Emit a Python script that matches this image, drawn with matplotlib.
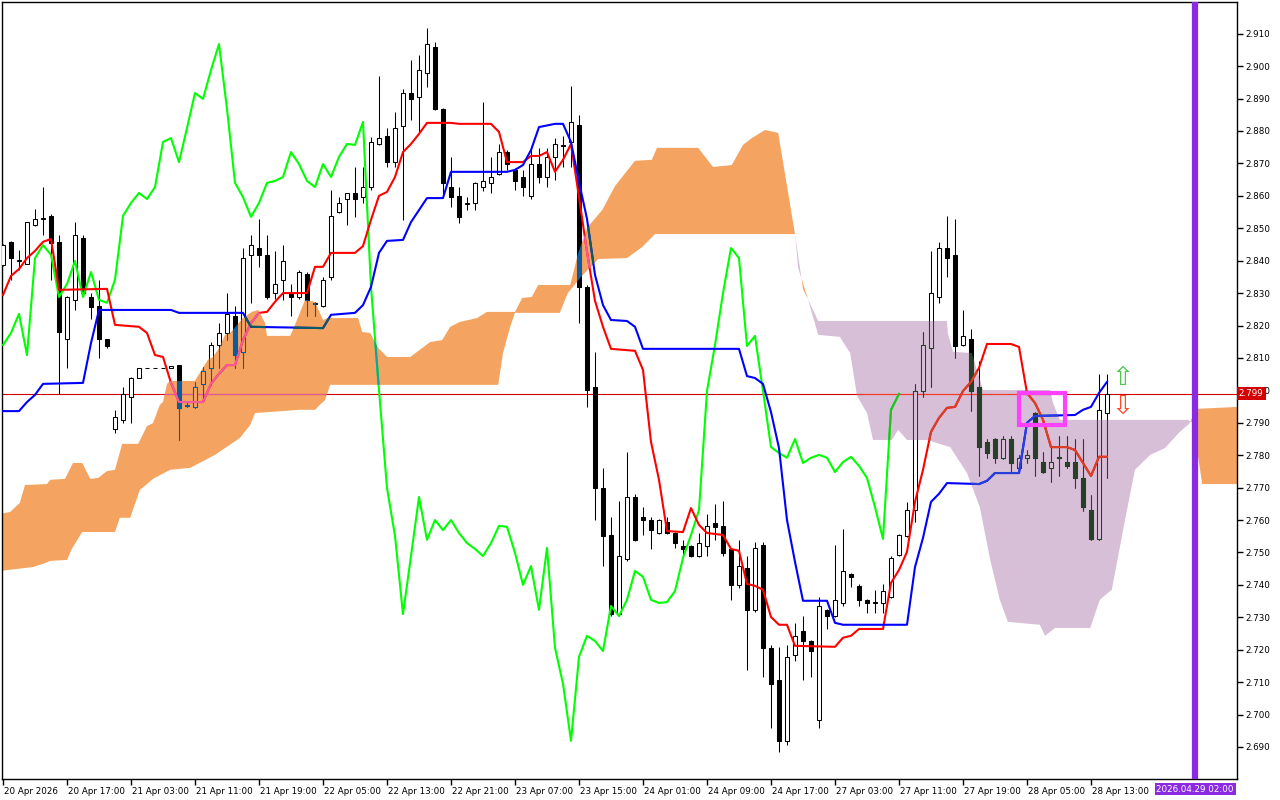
import numpy as np
import matplotlib
matplotlib.use("Agg")
import matplotlib.pyplot as plt
from matplotlib.colors import to_rgb
from matplotlib.path import Path
from matplotlib.patches import Rectangle
from matplotlib.transforms import blended_transform_factory, ScaledTranslation

# hourly candles, bar 0 = 20 Apr 2026
opens = [2.8387, 2.8458, 2.8399, 2.8390, 2.8510, 2.8529, 2.8538, 2.8458, 2.8159, 2.8279,
         2.8470, 2.8288, 2.8260, 2.8159, 2.7881, 2.7909, 2.7980, 2.8038, 2.8069, 2.8069,
         2.8069, 2.8069, 2.8078, 2.7952, 2.7949, 2.8020, 2.8069, 2.8140, 2.8177, 2.8229,
         2.8118, 2.8418, 2.8439, 2.8418, 2.8300, 2.8341, 2.8300, 2.8288, 2.8359, 2.8266,
         2.8260, 2.8350, 2.8550, 2.8590, 2.8609, 2.8596, 2.8627, 2.8760, 2.8785, 2.8704,
         2.8815, 2.8917, 2.8905, 2.8979, 2.9059, 2.8868, 2.8627, 2.8600, 2.8575, 2.8578,
         2.8627, 2.8640, 2.8667, 2.8735, 2.8680, 2.8658, 2.8600, 2.8698, 2.8658, 2.8720,
         2.8754, 2.8766, 2.8818, 2.8319, 2.8011, 2.7699, 2.7554, 2.7310, 2.7480, 2.7671,
         2.7610, 2.7600, 2.7560, 2.7594, 2.7560, 2.7520, 2.7520, 2.7489, 2.7520, 2.7591,
         2.7582, 2.7511, 2.7400, 2.7452, 2.7323, 2.7523, 2.7206, 2.7107, 2.6919, 2.7184,
         2.7258, 2.7227, 2.6984, 2.7323, 2.7304, 2.7345, 2.7434, 2.7397, 2.7354, 2.7344,
         2.7344, 2.7363, 2.7492, 2.7551, 2.7631, 2.7998, 2.8131, 2.8288, 2.8439, 2.8418,
         2.8140, 2.8159, 2.8011, 2.7841, 2.7850, 2.7792, 2.7850, 2.7761, 2.7792, 2.7930,
         2.7779, 2.7761, 2.7792, 2.7779, 2.7779, 2.7730, 2.7631, 2.7542, 2.7930]
highs = [2.8452, 2.8461, 2.8433, 2.8519, 2.8559, 2.8627, 2.8544, 2.8479, 2.8291, 2.8519,
         2.8479, 2.8300, 2.8341, 2.8159, 2.7940, 2.8011, 2.8041, 2.8069, 2.8069, 2.8069,
         2.8069, 2.8075, 2.8078, 2.7964, 2.8026, 2.8072, 2.8149, 2.8208, 2.8300, 2.8260,
         2.8439, 2.8479, 2.8529, 2.8479, 2.8430, 2.8448, 2.8328, 2.8371, 2.8365, 2.8273,
         2.8350, 2.8618, 2.8596, 2.8609, 2.8689, 2.8689, 2.8782, 2.8970, 2.8809, 2.8859,
         2.8930, 2.9019, 2.9034, 2.9118, 2.9074, 2.8871, 2.8720, 2.8627, 2.8596, 2.8643,
         2.8889, 2.8720, 2.8760, 2.8741, 2.8686, 2.8680, 2.8748, 2.8748, 2.8748, 2.8778,
         2.8785, 2.8939, 2.8849, 2.8325, 2.8118, 2.7761, 2.7610, 2.7659, 2.7810, 2.7681,
         2.7640, 2.7610, 2.7603, 2.7610, 2.7563, 2.7539, 2.7523, 2.7560, 2.7619, 2.7650,
         2.7659, 2.7514, 2.7539, 2.7489, 2.7533, 2.7533, 2.7215, 2.7209, 2.7215, 2.7283,
         2.7304, 2.7230, 2.7363, 2.7326, 2.7523, 2.7573, 2.7437, 2.7403, 2.7357, 2.7385,
         2.7403, 2.7489, 2.7557, 2.7656, 2.8020, 2.8180, 2.8430, 2.8458, 2.8538, 2.8529,
         2.8248, 2.8189, 2.8091, 2.7850, 2.7853, 2.7859, 2.7859, 2.7801, 2.7816, 2.7933,
         2.7810, 2.7825, 2.7859, 2.7859, 2.7850, 2.7850, 2.7677, 2.8051, 2.8051]
lows = [2.8384, 2.8341, 2.8371, 2.8390, 2.8507, 2.8479, 2.8341, 2.7989, 2.8069, 2.8248,
        2.8291, 2.8220, 2.8100, 2.8131, 2.7869, 2.7900, 2.7900, 2.8038, 2.8069, 2.8069,
        2.8069, 2.8069, 2.7847, 2.7949, 2.7946, 2.7964, 2.8017, 2.8069, 2.8155, 2.8069,
        2.8069, 2.8270, 2.8381, 2.8282, 2.8282, 2.8279, 2.8229, 2.8282, 2.8229, 2.8229,
        2.8257, 2.8341, 2.8547, 2.8510, 2.8535, 2.8578, 2.8618, 2.8757, 2.8689, 2.8689,
        2.8526, 2.8834, 2.8797, 2.8936, 2.8865, 2.8603, 2.8566, 2.8516, 2.8556, 2.8556,
        2.8615, 2.8609, 2.8664, 2.8680, 2.8618, 2.8600, 2.8590, 2.8640, 2.8627, 2.8649,
        2.8689, 2.8689, 2.8208, 2.7949, 2.7600, 2.7458, 2.7304, 2.7304, 2.7474, 2.7536,
        2.7554, 2.7511, 2.7557, 2.7557, 2.7514, 2.7492, 2.7486, 2.7486, 2.7489, 2.7539,
        2.7489, 2.7354, 2.7391, 2.7138, 2.7317, 2.7116, 2.6959, 2.6885, 2.6906, 2.7165,
        2.7107, 2.7116, 2.6959, 2.7264, 2.7301, 2.7335, 2.7394, 2.7335, 2.7313, 2.7313,
        2.7313, 2.7360, 2.7489, 2.7548, 2.7594, 2.7980, 2.8011, 2.8270, 2.8350, 2.8100,
        2.8137, 2.7937, 2.7736, 2.7792, 2.7776, 2.7788, 2.7748, 2.7758, 2.7776, 2.7736,
        2.7745, 2.7718, 2.7736, 2.7761, 2.7699, 2.7628, 2.7539, 2.7539, 2.7730]
closes = [2.8448, 2.8408, 2.8402, 2.8519, 2.8529, 2.8532, 2.8455, 2.8180, 2.8288, 2.8479,
          2.8300, 2.8257, 2.8159, 2.8137, 2.7918, 2.7989, 2.8038, 2.8069, 2.8069, 2.8069,
          2.8069, 2.8075, 2.7946, 2.7955, 2.8011, 2.8060, 2.8140, 2.8177, 2.8236, 2.8109,
          2.8408, 2.8448, 2.8418, 2.8288, 2.8328, 2.8399, 2.8288, 2.8365, 2.8279, 2.8270,
          2.8341, 2.8538, 2.8578, 2.8609, 2.8590, 2.8627, 2.8766, 2.8778, 2.8704, 2.8809,
          2.8917, 2.8899, 2.8988, 2.9068, 2.8868, 2.8640, 2.8596, 2.8535, 2.8578, 2.8640,
          2.8646, 2.8658, 2.8735, 2.8698, 2.8646, 2.8627, 2.8698, 2.8658, 2.8720, 2.8760,
          2.8757, 2.8828, 2.8319, 2.8001, 2.7699, 2.7551, 2.7310, 2.7489, 2.7671, 2.7539,
          2.7600, 2.7569, 2.7600, 2.7560, 2.7529, 2.7511, 2.7489, 2.7529, 2.7582, 2.7579,
          2.7499, 2.7400, 2.7458, 2.7323, 2.7514, 2.7206, 2.7095, 2.6919, 2.7178, 2.7243,
          2.7227, 2.7196, 2.7335, 2.7304, 2.7354, 2.7443, 2.7425, 2.7354, 2.7344, 2.7347,
          2.7381, 2.7483, 2.7554, 2.7631, 2.7998, 2.8140, 2.8300, 2.8439, 2.8408, 2.8137,
          2.8168, 2.7998, 2.7825, 2.7807, 2.7792, 2.7850, 2.7776, 2.7792, 2.7801, 2.7792,
          2.7748, 2.7779, 2.7795, 2.7767, 2.7730, 2.7640, 2.7542, 2.7940, 2.7989]

# ichimoku lines (bar index, price)
tenkan_bar = [0, 1, 2, 3, 4, 5, 6, 7, 13, 14, 17, 18, 19, 20, 21, 22, 25, 26, 27, 28, 29, 30,
              31, 32, 33, 34, 35, 38, 39, 40, 41, 44, 45, 46, 47, 48, 49, 50, 51, 52, 53, 56,
              57, 61, 62, 63, 65, 66, 67, 68, 69, 70, 71, 72, 73, 74, 75, 76, 79, 80, 81, 82,
              83, 85, 86, 87, 88, 90, 91, 92, 93, 94, 95, 96, 97, 98, 99, 104, 105, 106, 107,
              110, 111, 112, 113, 114, 115, 116, 117, 118, 119, 120, 121, 122, 123, 126, 127,
              128, 129, 130, 131, 133, 134, 135, 136, 137, 138]
tenkan = [2.8294, 2.8353, 2.8374, 2.8408, 2.8430, 2.8458, 2.8467, 2.8310, 2.8313, 2.8202,
          2.8196, 2.8177, 2.8109, 2.8103, 2.8023, 2.7964, 2.7964, 2.8020, 2.8051, 2.8078,
          2.8078, 2.8155, 2.8208, 2.8239, 2.8242, 2.8273, 2.8300, 2.8300, 2.8381, 2.8381,
          2.8424, 2.8424, 2.8445, 2.8526, 2.8600, 2.8612, 2.8658, 2.8735, 2.8760, 2.8791,
          2.8825, 2.8825, 2.8822, 2.8822, 2.8797, 2.8704, 2.8704, 2.8723, 2.8723, 2.8735,
          2.8674, 2.8711, 2.8760, 2.8596, 2.8427, 2.8276, 2.8196, 2.8128, 2.8122, 2.8063,
          2.7841, 2.7724, 2.7566, 2.7563, 2.7637, 2.7585, 2.7560, 2.7554, 2.7511, 2.7505,
          2.7403, 2.7397, 2.7385, 2.7301, 2.7277, 2.7277, 2.7212, 2.7209, 2.7237, 2.7243,
          2.7264, 2.7264, 2.7406, 2.7446, 2.7502, 2.7656, 2.7755, 2.7872, 2.7915, 2.7946,
          2.7949, 2.7998, 2.8026, 2.8069, 2.8143, 2.8143, 2.8134, 2.7992, 2.7961, 2.7909,
          2.7825, 2.7825, 2.7816, 2.7776, 2.7736, 2.7795, 2.7795]
kijun_bar = [0, 2, 3, 4, 5, 10, 11, 12, 21, 22, 30, 31, 40, 41, 44, 45, 46, 47, 48, 50, 51,
             53, 55, 56, 63, 64, 65, 66, 67, 69, 70, 71, 72, 73, 74, 75, 76, 78, 79, 80, 92,
             93, 94, 95, 96, 97, 98, 99, 100, 103, 104, 105, 113, 114, 115, 116, 117, 118,
             122, 123, 124, 127, 128, 129, 134, 135, 136, 137, 138]
kijun = [2.7936, 2.7936, 2.7964, 2.7986, 2.8020, 2.8023, 2.8146, 2.8248, 2.8248, 2.8239,
         2.8239, 2.8196, 2.8192, 2.8233, 2.8239, 2.8263, 2.8319, 2.8424, 2.8461, 2.8464,
         2.8519, 2.8593, 2.8593, 2.8674, 2.8674, 2.8680, 2.8695, 2.8741, 2.8812, 2.8822,
         2.8822, 2.8766, 2.8643, 2.8529, 2.8356, 2.8263, 2.8217, 2.8214, 2.8196, 2.8128,
         2.8128, 2.8044, 2.8038, 2.8020, 2.7933, 2.7822, 2.7600, 2.7471, 2.7351, 2.7351,
         2.7283, 2.7277, 2.7277, 2.7455, 2.7545, 2.7656, 2.7681, 2.7714, 2.7711, 2.7721,
         2.7745, 2.7745, 2.7900, 2.7921, 2.7924, 2.7940, 2.7949, 2.7992, 2.8026]

# senkou spans (already shifted 26 bars forward)
span_a_bar = [-0.4, 0.9, 2.1, 2.75, 5.5, 5.9, 7.75, 8.75, 9.9, 10.9, 11.9, 13.0, 14.0, 14.9,
              16.9, 18.0, 18.75, 19.6, 20.0, 20.5, 20.9, 24.0, 24.6, 25.6, 26.25, 27.1, 27.75,
              28.4, 30.0, 31.1, 31.9, 32.75, 33.0, 35.9, 36.75, 37.75, 39.0, 40.0, 40.6, 44.4,
              44.9, 45.9, 46.9, 48.0, 50.9, 52.1, 53.4, 54.9, 55.9, 57.1, 59.25, 60.5, 64.0,
              64.9, 66.1, 66.9, 70.9, 71.9, 73.1, 74.9, 76.5, 79.0, 81.1, 81.75, 86.9, 88.75,
              91.1, 92.5, 93.6, 95.25, 96.9, 99.0, 99.4, 100.5, 101.9, 104.6, 105.9, 106.75,
              108.0, 108.75, 111.1, 111.9, 113.0, 115.5, 118.4, 120.5, 122.1, 123.4, 124.6,
              125.6, 129.6, 130.25, 131.5, 135.9, 137.1, 138.6, 140.25, 141.5, 143.4, 145.25,
              147.1, 148.25, 149.25, 154.4]
span_a = [2.7619, 2.7625, 2.7653, 2.7708, 2.7711, 2.7724, 2.7727, 2.7776, 2.7776, 2.7727,
          2.7730, 2.7751, 2.7755, 2.7835, 2.7835, 2.7890, 2.7899, 2.7955, 2.7964, 2.8020,
          2.8029, 2.8029, 2.8054, 2.8094, 2.8103, 2.8134, 2.8171, 2.8177, 2.8223, 2.8242,
          2.8248, 2.8208, 2.8168, 2.8168, 2.8217, 2.8279, 2.8273, 2.8217, 2.8223, 2.8223,
          2.8180, 2.8177, 2.8131, 2.8103, 2.8103, 2.8125, 2.8149, 2.8155, 2.8196, 2.8211,
          2.8223, 2.8242, 2.8242, 2.8285, 2.8288, 2.8325, 2.8325, 2.8424, 2.8504, 2.8556,
          2.8630, 2.8708, 2.8711, 2.8748, 2.8748, 2.8689, 2.8695, 2.8757, 2.8778, 2.8803,
          2.8794, 2.8482, 2.8377, 2.8291, 2.8171, 2.8165, 2.8115, 2.7983, 2.7930, 2.7847,
          2.7847, 2.7878, 2.7847, 2.7847, 2.7825, 2.7745, 2.7640, 2.7477, 2.7354, 2.7286,
          2.7277, 2.7243, 2.7267, 2.7267, 2.7354, 2.7385, 2.7600, 2.7755, 2.7801, 2.7822,
          2.7872, 2.7896, 2.7943, 2.7949]
span_b_bar = [-0.4, 3.75, 5.0, 5.9, 8.0, 8.6, 9.9, 14.0, 14.6, 15.9, 17.1, 18.0, 18.75, 20.9,
              23.4, 26.5, 29.6, 30.9, 31.5, 37.1, 39.0, 39.6, 40.25, 40.9, 61.9, 62.5, 63.4,
              64.0, 69.6, 70.6, 72.25, 74.4, 78.0, 79.9, 81.5, 99.0, 100.0, 101.9, 118.0,
              118.1, 118.75, 121.1, 122.5, 130.9, 131.25, 132.1, 148.1, 148.75, 149.9, 154.4]
span_b = [2.7443, 2.7455, 2.7465, 2.7474, 2.7477, 2.7511, 2.7563, 2.7563, 2.7607, 2.7607,
          2.7693, 2.7711, 2.7727, 2.7755, 2.7761, 2.7801, 2.7853, 2.7893, 2.7930, 2.7940,
          2.7940, 2.7955, 2.7970, 2.8017, 2.8017, 2.8115, 2.8196, 2.8239, 2.8239, 2.8300,
          2.8350, 2.8405, 2.8408, 2.8442, 2.8482, 2.8482, 2.8313, 2.8214, 2.8214, 2.8177,
          2.8119, 2.8115, 2.8001, 2.8001, 2.7961, 2.7909, 2.7909, 2.7900, 2.7711, 2.7711]

date_ticks = list(range(0, 137, 8))
date_labels = ["20 Apr 2026", "20 Apr 17:00", "21 Apr 03:00", "21 Apr 11:00", "21 Apr 19:00",
               "22 Apr 05:00", "22 Apr 13:00", "22 Apr 21:00", "23 Apr 07:00", "23 Apr 15:00",
               "24 Apr 01:00", "24 Apr 09:00", "24 Apr 17:00", "27 Apr 03:00", "27 Apr 11:00",
               "27 Apr 19:00", "28 Apr 05:00", "28 Apr 13:00"]
price_ticks = np.round(np.arange(2.690, 2.9101, 0.010), 3)

bid = 2.799
marker_bar, marker_label = 149, "2026.04.29 02:00"
box_bars = (127.0, 132.8)
box_prices = (2.7892, 2.7993)
signal_bar = 139.9
signal_up, signal_dn = 2.8038, 2.7949

CLOUD_UP = "#f4a460"
CLOUD_DN = "#d8bfd8"

bars = np.arange(len(closes))
o, h, l, c = (np.asarray(v) for v in (opens, highs, lows, closes))


def xor_with(cloud):
    # MT4 draws the kumo in xor mode, so everything inside it is recoloured
    mask = [255 ^ int(round(v * 255)) for v in to_rgb(cloud)]

    def f(col):
        rgb = [int(round(v * 255)) for v in to_rgb(col)]
        return tuple((a ^ m) / 255 for a, m in zip(rgb, mask))
    return f


def draw_layer(ax, col, clip=None):
    arts = [ax.vlines(bars, l, h, colors=[col("black")], lw=0.75, zorder=3)]
    up = c >= o
    body = ax.bar(bars, np.abs(c - o), 0.5, bottom=np.minimum(o, c),
                  color=[col("white") if u else col("black") for u in up],
                  edgecolor=col("black"), lw=0.75, zorder=4)
    arts += list(body.patches)
    arts.append(ax.axhline(bid, color=col("#d00000"), lw=0.8, zorder=2))
    arts += ax.plot(bars[:-26], c[26:], color=col("#00ff00"), lw=1.5, zorder=5)
    arts += ax.plot(tenkan_bar, tenkan, color=col("#ff0000"), lw=1.5, zorder=5)
    arts += ax.plot(kijun_bar, kijun, color=col("#0000ff"), lw=1.5, zorder=5)
    if clip is not None:
        for a in arts:
            a.set_clip_path(clip, ax.transData)


fig = plt.figure(figsize=(12.8, 8), dpi=100)
ax = fig.add_axes([2 / 1280, 21 / 800, 1235 / 1280, 777 / 800])
ax.set_xlim(-0.125, 154.25)
ax.set_ylim(2.68013, 2.91978)

grid = np.union1d(span_a_bar, span_b_bar)
sa = np.interp(grid, span_a_bar, span_a)
sb = np.interp(grid, span_b_bar, span_b)
kumo_up = ax.fill_between(grid, sa, sb, where=sa >= sb, interpolate=True,
                          color=CLOUD_UP, lw=0, zorder=1)
kumo_dn = ax.fill_between(grid, sa, sb, where=sa < sb, interpolate=True,
                          color=CLOUD_DN, lw=0, zorder=1)

draw_layer(ax, lambda x: x)
for coll, colour in ((kumo_up, CLOUD_UP), (kumo_dn, CLOUD_DN)):
    clip = Path.make_compound_path(*coll.get_paths())
    draw_layer(ax, xor_with(colour), clip)

ax.add_patch(Rectangle((box_bars[0], box_prices[0]), box_bars[1] - box_bars[0],
                       box_prices[1] - box_prices[0], fill=False, ec="#ff40ff", lw=3, zorder=7))
ax.text(signal_bar, signal_up, "\u21e7", color="#4cc84c", fontsize=19,
        ha="center", va="center", zorder=8)
ax.text(signal_bar, signal_dn, "\u21e9", color="#ff4b2b", fontsize=19,
        ha="center", va="center", zorder=8)

ax.axvline(marker_bar, color="#8a2be2", lw=4.5, zorder=6)

# axes, MT4 style
for s in ax.spines.values():
    s.set_color("black")
    s.set_linewidth(1)
ax.yaxis.tick_right()
ax.set_yticks(price_ticks)
ax.set_yticklabels([f"{p:.3f}" for p in price_ticks])
ax.set_xticks(date_ticks)
ax.set_xticklabels(date_labels)
ax.tick_params(axis="both", direction="out", length=4, width=1, labelsize=6.3, pad=2)
shift = ScaledTranslation(1 / 100, 0, fig.dpi_scale_trans)
for lab in ax.get_xticklabels():
    lab.set_horizontalalignment("left")
    lab.set_transform(lab.get_transform() + shift)

yt = blended_transform_factory(ax.transAxes, ax.transData)
ax.text(1.0015, bid, f"{bid:.3f}", transform=yt, color="white", fontsize=6.3,
        ha="left", va="center", zorder=10,
        bbox=dict(boxstyle="square,pad=0.25", fc="#d40000", ec="none"))
ax.text(marker_bar, -10 / 777, marker_label, transform=ax.get_xaxis_transform(),
        color="white", fontsize=6.3, ha="center", va="center", zorder=10,
        bbox=dict(boxstyle="square,pad=0.2", fc="#8a2be2", ec="none"))

fig.savefig("out.png", dpi=100)
